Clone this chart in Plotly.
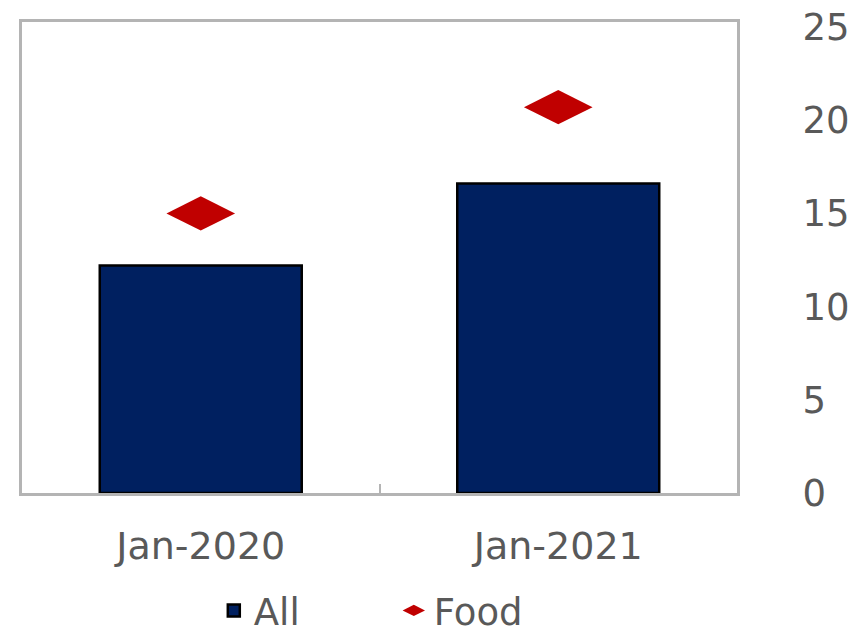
import plotly.graph_objects as go

# Categories and values
periods = ["Jan-2020", "Jan-2021"]
all_items = [12.2, 16.6]
food = [15.0, 20.7]

y_ticks = [0, 5, 10, 15, 20, 25]

text_color = "#595959"
frame_color = "#b4b4b4"
font_family = "DejaVu Sans"

fig = go.Figure()

fig.add_trace(go.Bar(
    x=periods,
    y=all_items,
    name="All",
    width=0.565,
    marker=dict(color="#002060", line=dict(color="#000000", width=2.5)),
))

fig.add_trace(go.Scatter(
    x=periods,
    y=food,
    name="Food",
    mode="markers",
    marker=dict(symbol="diamond-wide", size=49, color="#c00000"),
))

fig.update_layout(
    width=865,
    height=633,
    margin=dict(l=22, r=128, t=22, b=140, autoexpand=False),
    plot_bgcolor="white",
    paper_bgcolor="white",
    font=dict(family=font_family, color=text_color, size=38),
    showlegend=True,
    legend=dict(
        orientation="h",
        xref="paper",
        yref="container",
        x=0.52,
        xanchor="center",
        y=0.035,
        yanchor="middle",
        font=dict(size=37, color=text_color),
        itemwidth=30,
        entrywidth=135,
        bgcolor="rgba(0,0,0,0)",
    ),
)

fig.update_xaxes(
    range=[-0.5, 1.5],
    showline=True,
    linecolor=frame_color,
    linewidth=3,
    mirror=True,
    ticks="inside",
    tickson="boundaries",
    ticklen=9,
    tickwidth=2,
    tickcolor=frame_color,
    showgrid=False,
    automargin=False,
    ticklabelstandoff=17,
    tickfont=dict(size=38, color=text_color),
)

fig.update_yaxes(
    range=[0, 25.27],
    side="right",
    tickvals=y_ticks,
    showline=True,
    linecolor=frame_color,
    linewidth=3,
    mirror=True,
    ticks="",
    showgrid=False,
    zeroline=False,
    automargin=False,
    ticklabelstandoff=55,
    tickfont=dict(size=37, color=text_color),
)

fig.write_html("out.html")
